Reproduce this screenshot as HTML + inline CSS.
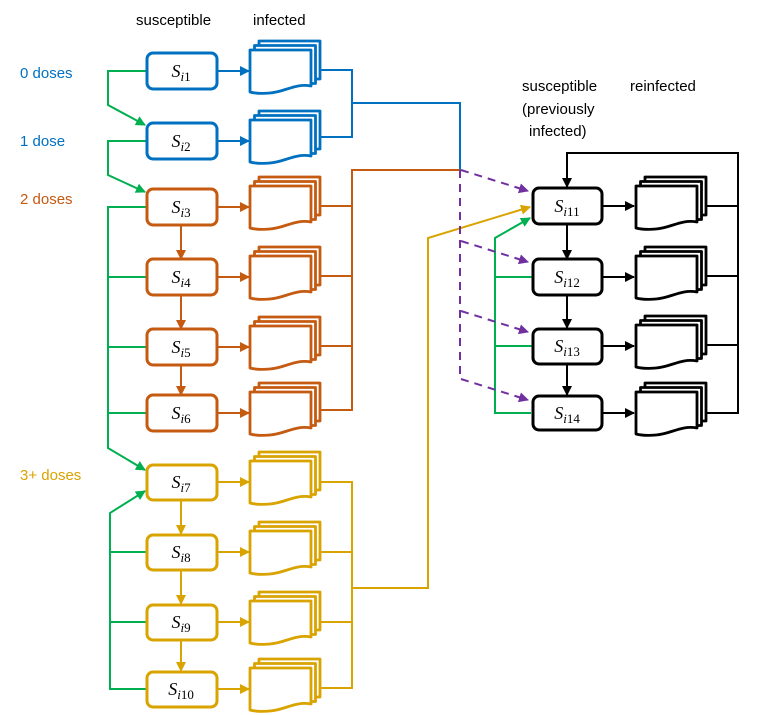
<!DOCTYPE html>
<html><head><meta charset="utf-8"><style>
html,body{margin:0;padding:0;background:#fff;}
svg{display:block;font-family:"Liberation Sans","DejaVu Sans",sans-serif;}
.lbl{font-size:15px;}
.s{font-family:"Liberation Serif",serif;font-style:italic;font-size:18px;}
.n{font-style:normal;}
</style></head><body>
<svg width="768" height="715" viewBox="0 0 768 715" xmlns="http://www.w3.org/2000/svg">
<defs>
<g id="doc" fill="#fff" stroke="currentColor" stroke-width="2.8" stroke-linejoin="round">
<rect x="9" y="-9" width="61" height="38"/>
<rect x="4.5" y="-4.5" width="61" height="38"/>
<path d="M0,0 H61 V36 C45,33 35,42 20,43 C10,44 4,43 0,42 Z"/>
</g>
<marker id="ab" viewBox="0 0 10 10" refX="9" refY="5" markerWidth="10" markerHeight="10" markerUnits="userSpaceOnUse" orient="auto"><path d="M0,0 L10,5 L0,10 Z" fill="#0070C0"/></marker>
<marker id="ao" viewBox="0 0 10 10" refX="9" refY="5" markerWidth="10" markerHeight="10" markerUnits="userSpaceOnUse" orient="auto"><path d="M0,0 L10,5 L0,10 Z" fill="#C55A11"/></marker>
<marker id="ay" viewBox="0 0 10 10" refX="9" refY="5" markerWidth="10" markerHeight="10" markerUnits="userSpaceOnUse" orient="auto"><path d="M0,0 L10,5 L0,10 Z" fill="#D9A300"/></marker>
<marker id="ag" viewBox="0 0 10 10" refX="9" refY="5" markerWidth="10" markerHeight="10" markerUnits="userSpaceOnUse" orient="auto"><path d="M0,0 L10,5 L0,10 Z" fill="#00B050"/></marker>
<marker id="ak" viewBox="0 0 10 10" refX="9" refY="5" markerWidth="10" markerHeight="10" markerUnits="userSpaceOnUse" orient="auto"><path d="M0,0 L10,5 L0,10 Z" fill="#000"/></marker>
<marker id="ap" viewBox="0 0 10 10" refX="9" refY="5" markerWidth="10" markerHeight="10" markerUnits="userSpaceOnUse" orient="auto"><path d="M0,0 L10,5 L0,10 Z" fill="#7030A0"/></marker>
</defs>

<text class="lbl" x="136" y="25">susceptible</text>
<text class="lbl" x="253" y="25">infected</text>
<text class="lbl" x="522" y="91">susceptible</text>
<text class="lbl" x="522" y="114">(previously</text>
<text class="lbl" x="529" y="136">infected)</text>
<text class="lbl" x="630" y="91">reinfected</text>
<text class="lbl" x="20" y="78" fill="#0070C0">0 doses</text>
<text class="lbl" x="20" y="146" fill="#0070C0">1 dose</text>
<text class="lbl" x="20" y="204" fill="#C55A11">2 doses</text>
<text class="lbl" x="20" y="480" fill="#D9A300">3+ doses</text>

<g fill="none" stroke="#00B050" stroke-width="2">
<polyline points="147,71 108,71 108,105 145,125" marker-end="url(#ag)"/>
<polyline points="147,141 108,141 108,175 145,192" marker-end="url(#ag)"/>
<polyline points="147,207 108,207 108,448 145,470" marker-end="url(#ag)"/>
<line x1="108" y1="277" x2="147" y2="277"/>
<line x1="108" y1="347" x2="147" y2="347"/>
<line x1="108" y1="413" x2="147" y2="413"/>
<polyline points="147,689 110,689 110,513 145,491" marker-end="url(#ag)"/>
<line x1="110" y1="552" x2="147" y2="552"/>
<line x1="110" y1="622" x2="147" y2="622"/>
<polyline points="531,413 495,413 495,238 530,218" marker-end="url(#ag)"/>
<line x1="495" y1="277" x2="532" y2="277"/>
<line x1="495" y1="346" x2="532" y2="346"/>
</g>

<g fill="none" stroke="#0070C0" stroke-width="2">
<line x1="217" y1="71" x2="249" y2="71" marker-end="url(#ab)"/>
<line x1="217" y1="141" x2="249" y2="141" marker-end="url(#ab)"/>
<polyline points="321,70 352,70 352,137 321,137"/>
<polyline points="352,103 460,103 460,170"/>
</g>
<g color="#0070C0"><use href="#doc" x="250" y="50"/><use href="#doc" x="250" y="120"/></g>
<g fill="#fff" stroke="#0070C0" stroke-width="3">
<rect x="147" y="53" width="70" height="36" rx="6"/>
<rect x="147" y="123" width="70" height="36" rx="6"/>
</g>

<g fill="none" stroke="#C55A11" stroke-width="2">
<line x1="217" y1="207" x2="249" y2="207" marker-end="url(#ao)"/>
<line x1="217" y1="277" x2="249" y2="277" marker-end="url(#ao)"/>
<line x1="217" y1="347" x2="249" y2="347" marker-end="url(#ao)"/>
<line x1="217" y1="413" x2="249" y2="413" marker-end="url(#ao)"/>
<line x1="181" y1="225" x2="181" y2="259" marker-end="url(#ao)"/>
<line x1="181" y1="295" x2="181" y2="329" marker-end="url(#ao)"/>
<line x1="181" y1="365" x2="181" y2="395" marker-end="url(#ao)"/>
<polyline points="321,206 352,206 352,170 460,170"/>
<polyline points="352,206 352,410 321,410"/>
<line x1="321" y1="276" x2="352" y2="276"/>
<line x1="321" y1="346" x2="352" y2="346"/>
</g>
<g color="#C55A11"><use href="#doc" x="250" y="186"/><use href="#doc" x="250" y="256"/><use href="#doc" x="250" y="326"/><use href="#doc" x="250" y="392"/></g>
<g fill="#fff" stroke="#C55A11" stroke-width="3">
<rect x="147" y="189" width="70" height="36" rx="6"/>
<rect x="147" y="259" width="70" height="36" rx="6"/>
<rect x="147" y="329" width="70" height="36" rx="6"/>
<rect x="147" y="395" width="70" height="36" rx="6"/>
</g>

<g fill="none" stroke="#D9A300" stroke-width="2">
<line x1="217" y1="482" x2="249" y2="482" marker-end="url(#ay)"/>
<line x1="217" y1="552" x2="249" y2="552" marker-end="url(#ay)"/>
<line x1="217" y1="622" x2="249" y2="622" marker-end="url(#ay)"/>
<line x1="217" y1="689" x2="249" y2="689" marker-end="url(#ay)"/>
<line x1="181" y1="500" x2="181" y2="534" marker-end="url(#ay)"/>
<line x1="181" y1="570" x2="181" y2="604" marker-end="url(#ay)"/>
<line x1="181" y1="640" x2="181" y2="671" marker-end="url(#ay)"/>
<polyline points="321,482 352,482 352,688 321,688"/>
<line x1="321" y1="552" x2="352" y2="552"/>
<line x1="321" y1="622" x2="352" y2="622"/>
<polyline points="352,588 428,588 428,238 530,207" marker-end="url(#ay)"/>
</g>
<g color="#D9A300"><use href="#doc" x="250" y="461"/><use href="#doc" x="250" y="531"/><use href="#doc" x="250" y="601"/><use href="#doc" x="250" y="668"/></g>
<g fill="#fff" stroke="#D9A300" stroke-width="3">
<rect x="147" y="465" width="70" height="35" rx="6"/>
<rect x="147" y="535" width="70" height="35" rx="6"/>
<rect x="147" y="605" width="70" height="35" rx="6"/>
<rect x="147" y="672" width="70" height="35" rx="6"/>
</g>

<g fill="none" stroke="#7030A0" stroke-width="2" stroke-dasharray="8,6">
<line x1="460" y1="170" x2="460" y2="380"/>
<line x1="461" y1="170" x2="528" y2="191" marker-end="url(#ap)"/>
<line x1="461" y1="241" x2="528" y2="262" marker-end="url(#ap)"/>
<line x1="461" y1="311" x2="528" y2="332" marker-end="url(#ap)"/>
<line x1="461" y1="379" x2="528" y2="400" marker-end="url(#ap)"/>
</g>

<g fill="none" stroke="#000" stroke-width="2">
<line x1="602" y1="206" x2="634" y2="206" marker-end="url(#ak)"/>
<line x1="602" y1="277" x2="634" y2="277" marker-end="url(#ak)"/>
<line x1="602" y1="346" x2="634" y2="346" marker-end="url(#ak)"/>
<line x1="602" y1="413" x2="634" y2="413" marker-end="url(#ak)"/>
<line x1="567" y1="224" x2="567" y2="259" marker-end="url(#ak)"/>
<line x1="567" y1="295" x2="567" y2="328" marker-end="url(#ak)"/>
<line x1="567" y1="364" x2="567" y2="395" marker-end="url(#ak)"/>
<polyline points="706,206 738,206 738,413 706,413"/>
<line x1="706" y1="276" x2="738" y2="276"/>
<line x1="706" y1="345" x2="738" y2="345"/>
<polyline points="738,206 738,153 567,153 567,187" marker-end="url(#ak)"/>
</g>
<g color="#000"><use href="#doc" x="636" y="186"/><use href="#doc" x="636" y="256"/><use href="#doc" x="636" y="325"/><use href="#doc" x="636" y="392"/></g>
<g fill="#fff" stroke="#000" stroke-width="3">
<rect x="533" y="188" width="69" height="36" rx="6"/>
<rect x="533" y="259" width="69" height="36" rx="6"/>
<rect x="533" y="329" width="69" height="35" rx="6"/>
<rect x="533" y="396" width="69" height="34" rx="6"/>
</g>

<g class="s" text-anchor="middle">
<text x="181" y="77">S<tspan font-size="13" dy="4">i<tspan class="n">1</tspan></tspan></text>
<text x="181" y="147">S<tspan font-size="13" dy="4">i<tspan class="n">2</tspan></tspan></text>
<text x="181" y="213">S<tspan font-size="13" dy="4">i<tspan class="n">3</tspan></tspan></text>
<text x="181" y="283">S<tspan font-size="13" dy="4">i<tspan class="n">4</tspan></tspan></text>
<text x="181" y="353">S<tspan font-size="13" dy="4">i<tspan class="n">5</tspan></tspan></text>
<text x="181" y="419">S<tspan font-size="13" dy="4">i<tspan class="n">6</tspan></tspan></text>
<text x="181" y="488">S<tspan font-size="13" dy="4">i<tspan class="n">7</tspan></tspan></text>
<text x="181" y="558">S<tspan font-size="13" dy="4">i<tspan class="n">8</tspan></tspan></text>
<text x="181" y="628">S<tspan font-size="13" dy="4">i<tspan class="n">9</tspan></tspan></text>
<text x="181" y="695">S<tspan font-size="13" dy="4">i<tspan class="n">10</tspan></tspan></text>
<text x="567" y="212">S<tspan font-size="13" dy="4">i<tspan class="n">11</tspan></tspan></text>
<text x="567" y="283">S<tspan font-size="13" dy="4">i<tspan class="n">12</tspan></tspan></text>
<text x="567" y="352">S<tspan font-size="13" dy="4">i<tspan class="n">13</tspan></tspan></text>
<text x="567" y="419">S<tspan font-size="13" dy="4">i<tspan class="n">14</tspan></tspan></text>
</g>
</svg>
</body></html>
